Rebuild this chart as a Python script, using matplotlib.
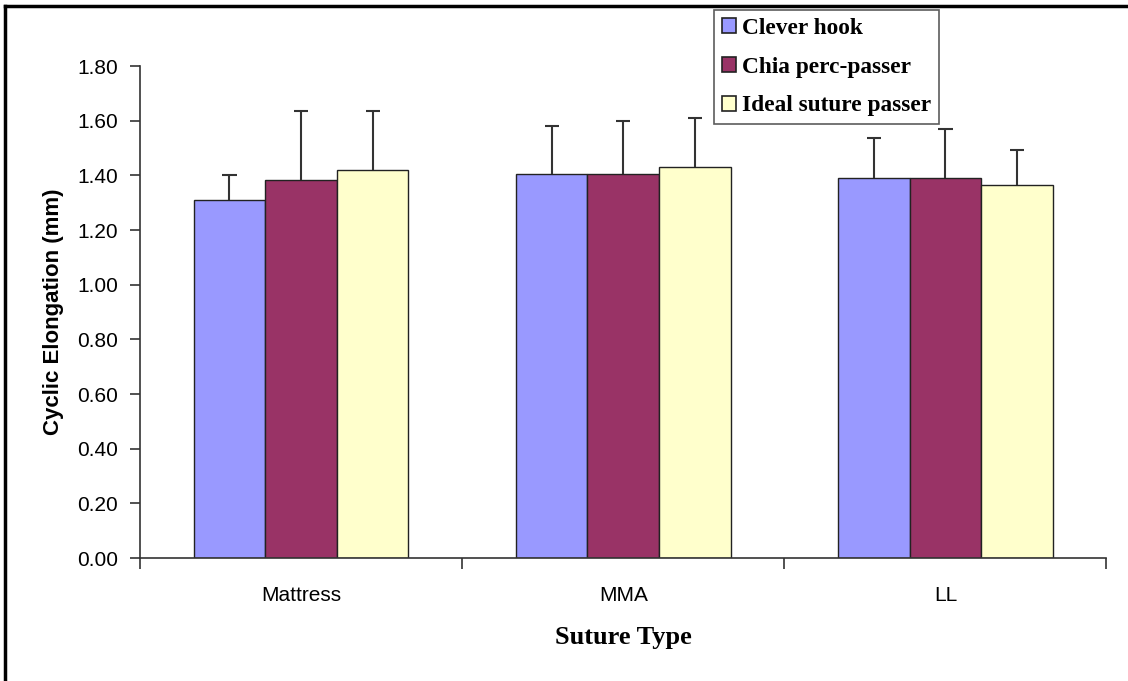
import numpy as np
import matplotlib.pyplot as plt
from matplotlib.lines import Line2D

categories = ["Mattress", "MMA", "LL"]
series_names = ["Clever hook", "Chia perc-passer", "Ideal suture passer"]
clever_hook = [1.31, 1.405, 1.39]
chia_perc = [1.383, 1.405, 1.39]
ideal_passer = [1.42, 1.43, 1.365]
clever_err = [0.09, 0.175, 0.147]
chia_err = [0.252, 0.195, 0.18]
ideal_err = [0.215, 0.18, 0.128]
y_ticks = [0.0, 0.2, 0.4, 0.6, 0.8, 1.0, 1.2, 1.4, 1.6, 1.8]

colors = ["#9999FF", "#993366", "#FFFFCC"]

fig = plt.figure(figsize=(11.28, 6.81), dpi=100)
ax = fig.add_axes([140 / 1128, 1 - 558 / 681, (1106.5 - 140) / 1128, (558 - 66) / 681])

x = np.arange(len(categories))
width = 1 / 4.5
cap_half = 0.022
values = [clever_hook, chia_perc, ideal_passer]
errors = [clever_err, chia_err, ideal_err]
for i, (vals, errs, col, name) in enumerate(zip(values, errors, colors, series_names)):
    pos = x + (i - 1) * width
    vals = np.asarray(vals)
    errs = np.asarray(errs)
    ax.bar(pos, vals, width=width, color=col, edgecolor="#222222", linewidth=1.0,
           label=name, zorder=2)
    # upper-only error bars with a short cap
    ax.vlines(pos, vals, vals + errs, color="#333333", linewidth=1.5, zorder=3)
    ax.hlines(vals + errs, pos - cap_half, pos + cap_half, color="#333333",
              linewidth=1.5, zorder=3)

ax.set_xlim(-0.5, 2.5)
ax.set_ylim(0, 1.8)
ax.set_yticks(y_ticks)
ax.set_yticklabels([f"{v:.2f}" for v in y_ticks], fontfamily="Liberation Sans", fontsize=15)
ax.set_xticks([-0.5, 0.5, 1.5, 2.5])
ax.set_xticklabels([])
ax.set_xticks(x, minor=True)
ax.set_xticklabels(categories, minor=True, fontfamily="Liberation Sans", fontsize=15)
ax.tick_params(axis="x", which="minor", length=0, pad=20)
ax.tick_params(axis="x", which="major", length=8, width=1.2, color="#333333", direction="out")
ax.tick_params(axis="y", length=7, width=1.2, color="#333333", direction="out", pad=9)

for side in ["top", "right"]:
    ax.spines[side].set_visible(False)
for side in ["left", "bottom"]:
    ax.spines[side].set_color("#333333")
    ax.spines[side].set_linewidth(1.2)

ax.set_ylabel("Cyclic Elongation (mm)", fontfamily="Liberation Sans", fontweight="bold",
              fontsize=16, labelpad=9)
ax.set_xlabel("Suture Type", fontfamily="Liberation Serif", fontweight="bold",
              fontsize=19, labelpad=15)

handles = [plt.Rectangle((0, 0), 1, 1, facecolor=c, edgecolor="#222222", linewidth=1.2)
           for c in colors]
leg = fig.legend(handles, series_names, loc="upper left",
                 bbox_to_anchor=(714 / 1128, 1 - 10 / 681),
                 prop={"family": "Liberation Serif", "weight": "bold", "size": 16.8},
                 frameon=True, fancybox=False, edgecolor="#333333",
                 handlelength=0.6, handleheight=0.6, handletextpad=0.25,
                 labelspacing=0.76, borderpad=0.34, borderaxespad=0)
leg.get_frame().set_linewidth(1.2)
leg.set_zorder(5)

# outer frame lines along the top and left edges
fig.add_artist(Line2D([5 / 1128, 1.0], [1 - 6 / 681, 1 - 6 / 681], color="black",
                      linewidth=2.5, transform=fig.transFigure))
fig.add_artist(Line2D([5 / 1128, 5 / 1128], [0.0, 1 - 6 / 681], color="black",
                      linewidth=2.5, transform=fig.transFigure))

fig.savefig("out.png", dpi=100)
